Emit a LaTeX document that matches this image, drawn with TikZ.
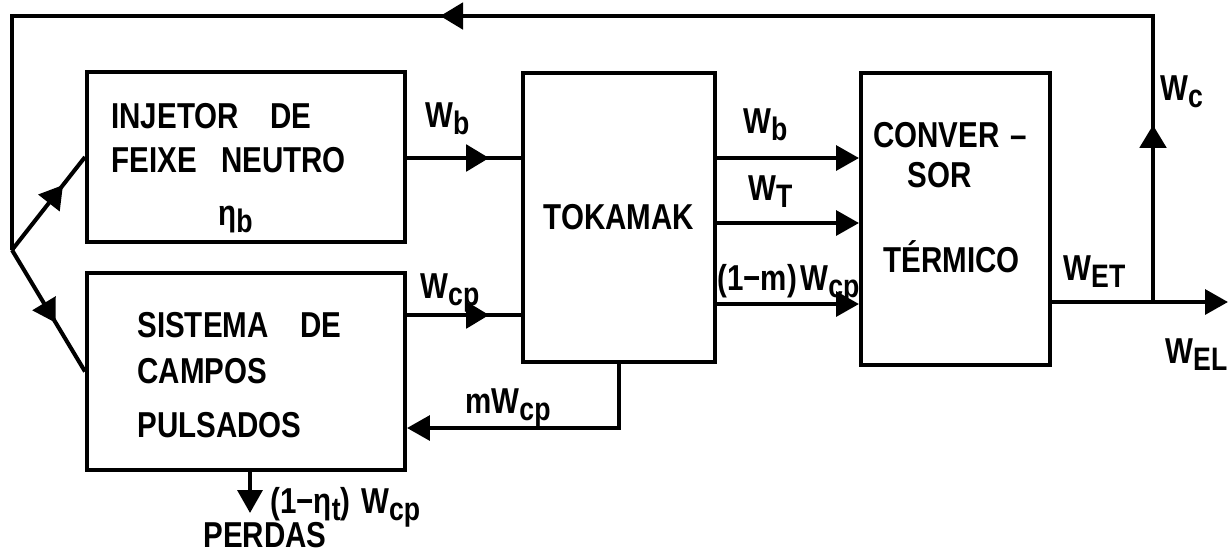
\documentclass[tikz,border=0pt]{standalone}
\usepackage{fontspec}
\setmainfont{Liberation Sans}[FakeStretch=0.82]
\usepackage{tikz}
\usetikzlibrary{arrows.meta, decorations.markings}
\tikzstyle{blk}=[draw, line width=2.3pt, inner sep=0pt]
\tikzstyle{flow}=[line width=2.3pt]
\tikzstyle{endtip}=[-{Triangle[length=13pt, width=14pt]}]
\tikzstyle{lettering}=[font=\fontsize{20.5}{24}\selectfont\bfseries]
\tikzstyle{txt}=[lettering, inner sep=0pt, anchor=base west]
\tikzset{midtip/.style={postaction={decorate}, decoration={markings, mark=at position #1 with {\arrow{Triangle[length=13pt, width=15pt]}}}}}
\newcommand{\lsub}[1]{\raisebox{-0.4ex}{\fontsize{18.5}{18}\selectfont #1}}
\newcommand{\Wsub}[1]{W\lsub{#1}}

\begin{document}
\begin{tikzpicture}[x=0.02cm, y=-0.02cm]
	\useasboundingbox (0,0) rectangle (1230,556);
	% blocks
	\node[blk, minimum width=6.36cm, minimum height=3.4cm] (inj) at (246,157) {};
	\node[blk, minimum width=6.36cm, minimum height=3.94cm] (sis) at (246,371.5) {};
	\node[blk, lettering, minimum width=3.84cm, minimum height=5.78cm] (tok) at (619,217.5) {TOKAMAK};
	\node[blk, minimum width=3.78cm, minimum height=5.84cm] (conv) at (955.5,219) {};
	% texts inside the blocks
	\node[txt] (inj1) at (111,128) {INJETOR\hspace{18pt}DE};
	\node[txt] (inj2) at (111,172) {FEIXE\hspace{14pt}NEUTRO};
	\node[txt] (inj3) at (218,225) {η\lsub{b}};
	\node[txt] (sis1) at (137,337) {SISTEMA\hspace{18pt}DE};
	\node[txt] (sis2) at (137,383) {CAMPOS};
	\node[txt] (sis3) at (137,437) {PULSADOS};
	\node[txt] (conv1) at (873,147) {CONVER\hspace{6pt}–};
	\node[txt] (conv2) at (907,187) {SOR};
	\node[txt] (conv3) at (883,272) {TÉRMICO};
	% rows and free ends
	\coordinate (rWb) at (0,158);
	\coordinate (rWT) at (0,223);
	\coordinate (rWm) at (0,304);
	\coordinate (rWcp) at (0,315);
	\coordinate (rmW) at (0,428);
	\coordinate (tap) at (1153,302);
	\coordinate (out) at (1228,302);
	\coordinate (topR) at (1153,16);
	\coordinate (topL) at (12,16);
	\coordinate (split) at (12,250);
	\coordinate (loss) at (250,513);
	% connectors
	\draw[flow, midtip=0.72] (inj.east |- rWb) -- (tok.west |- rWb);
	\draw[flow, midtip=0.72] (sis.east |- rWcp) -- (tok.west |- rWcp);
	\draw[flow, endtip] (tok.south) |- (sis.east |- rmW);
	\draw[flow, endtip] (tok.east |- rWb) -- (conv.west |- rWb);
	\draw[flow, endtip] (tok.east |- rWT) -- (conv.west |- rWT);
	\draw[flow, endtip] (tok.east |- rWm) -- (conv.west |- rWm);
	\draw[flow, endtip] (conv.east |- out) -- (out);
	\draw[flow, postaction={decorate}, decoration={markings,
		mark=at position 3.54cm with {\arrow{Triangle[length=13pt, width=15pt]}},
		mark=at position 19.98cm with {\arrow{Triangle[length=13pt, width=15pt]}}}]
		(tap) -- (topR) -- (topL) -- (split);
	\draw[flow, midtip=0.7] (split) -- (inj.west);
	\draw[flow, midtip=0.6] (split) -- (sis.west);
	\draw[flow, endtip] (sis.south -| loss) -- (loss);
	% labels
	\node[txt] (lWbi) at (425,127) {\Wsub{b}};
	\node[txt] (lWcpi) at (420,298) {\Wsub{cp}};
	\node[txt] (lmW) at (465,413) {m\Wsub{cp}};
	\node[txt] (lWbo) at (743,133) {\Wsub{b}};
	\node[txt] (lWT) at (748,200) {\Wsub{T}};
	\node[txt] (lWm) at (717,290) {(1−m)\hspace{2pt}\Wsub{cp}};
	\node[txt] (lWET) at (1063,280) {\Wsub{ET}};
	\node[txt] (lWEL) at (1165,363) {\Wsub{EL}};
	\node[txt] (lWc) at (1160,100) {\Wsub{c}};
	\node[txt] (lloss) at (270,513) {(1−η\lsub{t})\hspace{6pt}\Wsub{cp}};
	\node[txt] (perdas) at (203,547) {PERDAS};
\end{tikzpicture}
\end{document}
